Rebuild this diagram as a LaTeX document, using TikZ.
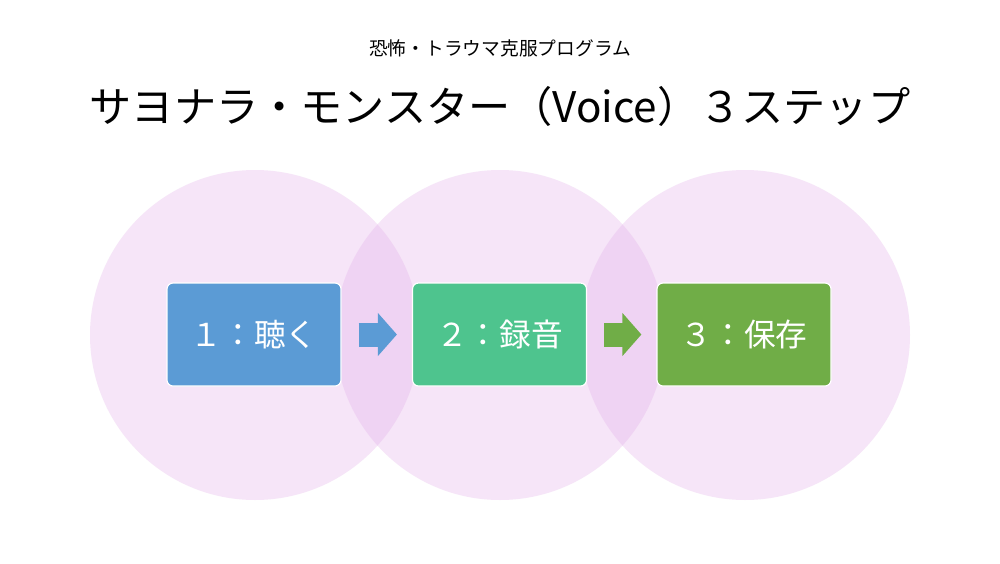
\documentclass[tikz,border=0pt]{standalone}
\usepackage{fontspec}
\setmainfont{Noto Sans CJK JP}
\usetikzlibrary{arrows.meta}

\definecolor{ringpink}{RGB}{226,170,232}
\definecolor{listenblue}{RGB}{91,155,213}
\definecolor{recordgreen}{RGB}{78,196,142}
\definecolor{savegreen}{RGB}{112,173,71}

\tikzset{
    stepbox/.style={draw=white, line width=1pt, rounded corners=1.8mm,
        minimum width=52.2mm, minimum height=30.9mm, text=white,
        font=\fontsize{27pt}{32pt}\selectfont},
    steparrow/.style={line width=7.2mm, line cap=butt,
        -{Triangle[length=5.7mm,width=12.6mm]}, shorten <=5.1mm, shorten >=4.5mm}
}

\begin{document}
\begin{tikzpicture}[x=0.3mm,y=-0.3mm]
        \useasboundingbox (0,0) rectangle (1000,563);
        \fill[white] (0,0) rectangle (1000,563);

        % Circles
        \foreach \x in {255,500,745} {
            \fill[ringpink, opacity=0.3] (\x,335) circle (165);
        }

        % Titles
        \node (sub) at (500,48) {\fontsize{16pt}{19pt}\selectfont 恐怖・トラウマ克服プログラム};
        \node (title) at (500,106) {\fontsize{36pt}{41pt}\selectfont サヨナラ・モンスター（Voice）３ステップ};

        % Steps
        \node[stepbox, fill=listenblue] (listen) at (254,334.5) {１：聴く};
        \node[stepbox, fill=recordgreen] (record) at (499.5,334.5) {２：録音};
        \node[stepbox, fill=savegreen] (save) at (744,334.5) {３：保存};

        % Arrows
        \draw[steparrow, listenblue] (listen.east) -- (record.west);
        \draw[steparrow, savegreen] (record.east) -- (save.west);
\end{tikzpicture}
\end{document}
